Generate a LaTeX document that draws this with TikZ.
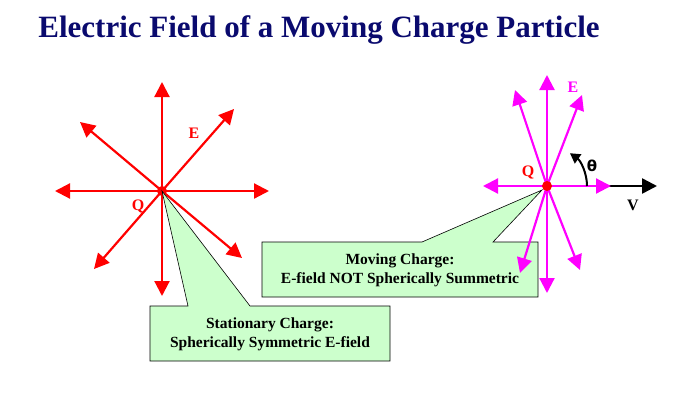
\documentclass[tikz,border=0pt]{standalone}
\usepackage{fontspec}
\setmainfont{Liberation Serif}
\newfontfamily\dvs{DejaVu Sans}
\usetikzlibrary{arrows.meta}
\definecolor{navy}{RGB}{10,10,110}
\definecolor{mag}{RGB}{255,0,255}
\definecolor{boxg}{RGB}{204,255,204}
\tikzset{
 ra/.style={red,line width=2.2pt,-{Triangle[length=15pt,width=15pt]}},
 ma/.style={mag,line width=2.2pt,-{Triangle[length=15pt,width=15pt]}},
 lab/.style={font=\bfseries\fontsize{16}{18}\selectfont},
 callout/.style={fill=boxg,draw=black,line width=0.6pt},
 ctext/.style={font=\bfseries\fontsize{15.5}{19}\selectfont,align=center}
}
\begin{document}
\begin{tikzpicture}[x=1pt,y=-1pt]
\useasboundingbox (0,0) rectangle (693,407);
\node[font=\bfseries\fontsize{31}{34}\selectfont,text=navy] (title) at (319,30) {Electric Field of a Moving Charge Particle};
% stationary
\coordinate (q1) at (162,191);
\foreach \n/\p in {u/{162,82},d/{162,296},l/{55,191},r/{269,191},ne/{234,109},nw/{80,122},sw/{94,269},se/{242,258}}
  \coordinate (s\n) at (\p);
\foreach \n in {u,d,l,r,ne,nw,sw,se} \draw[ra] (q1) -- (s\n);
\node[circle,fill=red,inner sep=0pt,minimum size=10pt] (c1) at (q1) {};
\node[lab,text=red] (e1) at (194,133) {E};
\node[lab,text=red] (ql) at (138,206) {Q};
% stationary callout
\draw[callout] (150,306) -- (188,306) -- (q1) -- (250,306) -- (390,306) -- (390,361) -- (150,361) -- cycle;
\node[ctext] (st) at (270,334) {Stationary Charge:\\Spherically Symmetric E-field};
% moving
\coordinate (q2) at (547,186);
\coordinate (tip2) at (542,190);
\draw[callout] (262,242) -- (422,242) -- (tip2) -- (493,242) -- (538,242) -- (538,297) -- (262,297) -- cycle;
\node[ctext] (mv) at (400,270) {Moving Charge:\\E-field NOT Spherically Summetric};
\coordinate (vend) at (657,186);
\draw[black,line width=2.5pt,-{Triangle[length=15pt,width=15pt]}] (q2) -- (vend);
\foreach \n/\p in {u/{547,75},d/{547,293},l/{483,186},r/{611,186},ne/{582,95},nw/{515,90},sw/{520,273},se/{580,270}}
  \coordinate (m\n) at (\p);
\foreach \n in {u,d,l,r,ne,nw,sw,se} \draw[ma] (q2) -- (m\n);
\node[circle,fill=red,inner sep=0pt,minimum size=10pt] (c2) at (q2) {};
\node[lab,text=mag] (e2) at (573,87) {E};
\node[lab,text=red] (qr) at (528,172) {Q};
\node[lab] (vl) at (633,205) {V};
\node[font=\dvs\bfseries\fontsize{15}{17}\selectfont] (th) at (592,166) {θ};
\draw[line width=2pt,-{Triangle[length=10pt,width=11pt]}] (587,186) arc[start angle=0,end angle=-55,radius=40];
\end{tikzpicture}
\end{document}
